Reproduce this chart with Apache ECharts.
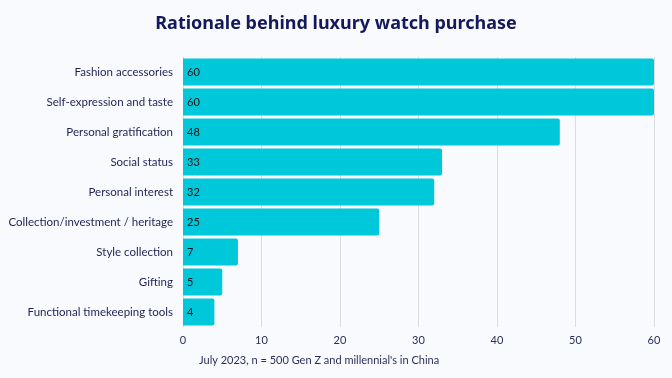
<!DOCTYPE html>
<html><head><meta charset="utf-8">
<script src="https://cdn.jsdelivr.net/npm/echarts@6/dist/echarts.min.js"></script>
<style>html,body{margin:0;padding:0;background:#f9fafd;}#c{width:672px;height:378px;}</style>
</head><body><div id="c"></div>
<script>
const categories = ["Fashion accessories","Self-expression and taste","Personal gratification","Social status","Personal interest","Collection/investment / heritage","Style collection","Gifting","Functional timekeeping tools"];
const values = [60,60,48,33,32,25,7,5,4];
const xTicks = [0,10,20,30,40,50,60];
const titleText = "Rationale behind luxury watch purchase";
const noteText = "July 2023, n = 500 Gen Z and millennial's in China";

const chart = echarts.init(document.getElementById('c'), null, {renderer:'canvas'});
chart.setOption({
  backgroundColor: '#f9fafd',
  animation: false,
  title: [{
    text: titleText, left: 'center', top: 10,
    textStyle: {fontFamily: 'Noto Sans', fontWeight: 'bold', fontSize: 18, color: '#15185a'}
  },{
    text: noteText, left: 194, top: 350,
    textStyle: {fontFamily: 'Lato', fontWeight: 'normal', fontSize: 11, color: '#2a2f5a'}
  }],
  grid: {left: 183, right: 18, top: 57, bottom: 51, containLabel: false},
  xAxis: {
    type: 'value', min: xTicks[0], max: xTicks[xTicks.length-1], interval: 10,
    axisLine: {show: false}, axisTick: {show: false},
    splitLine: {show: true, lineStyle: {color: '#dcdde3', width: 1}},
    axisLabel: {fontFamily: 'Lato', fontSize: 11, color: '#2a2f5a', margin: 8}
  },
  yAxis: {
    type: 'category', data: categories, inverse: true,
    axisLine: {show: false}, axisTick: {show: false},
    axisLabel: {fontFamily: 'Lato', fontSize: 11.5, color: '#1e2255', margin: 10}
  },
  series: [{
    type: 'bar', data: values, barCategoryGap: '10%',
    itemStyle: {color: '#00c8db', borderRadius: [0,2,2,0]},
    label: {show: true, position: 'insideLeft', offset: [-1,0], fontFamily: 'Lato', fontSize: 11, color: '#111111'}
  }]
});
</script></body></html>
